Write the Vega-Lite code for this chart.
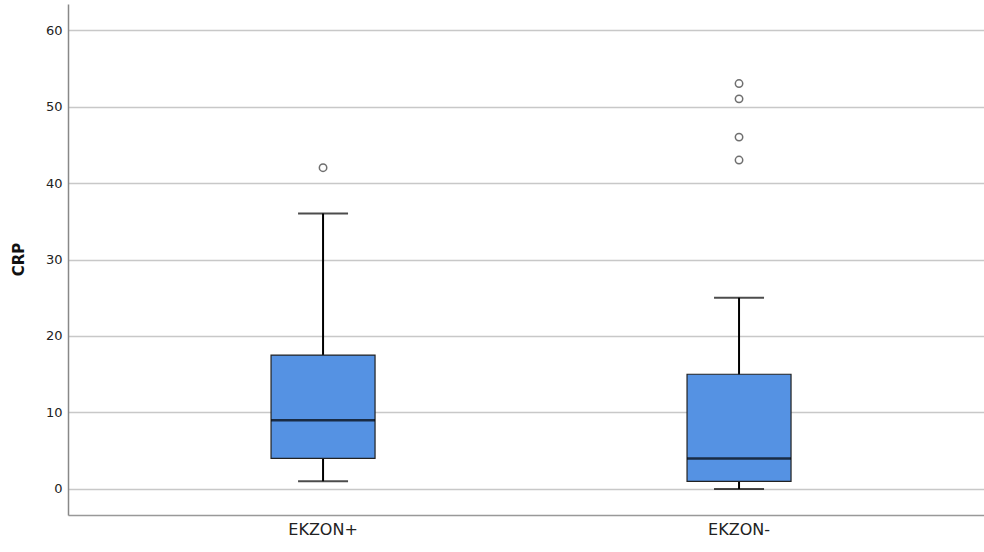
{
  "$schema": "https://vega.github.io/schema/vega-lite/v6.json",
  "autosize": "none",
  "width": 916,
  "height": 511,
  "padding": {"left": 68, "top": 4, "right": 0, "bottom": 37},
  "background": "white",
  "config": {"view": {"stroke": null}, "font": "DejaVu Sans"},
  "datasets": {
    "boxes": [
      {"group": "EKZON+", "lower": 1, "q1": 4, "median": 9, "q3": 17.5, "upper": 36},
      {"group": "EKZON-", "lower": 0, "q1": 1, "median": 4, "q3": 15, "upper": 25}
    ],
    "outliers": [
      {"group": "EKZON+", "CRP": 42},
      {"group": "EKZON-", "CRP": 53},
      {"group": "EKZON-", "CRP": 51},
      {"group": "EKZON-", "CRP": 46},
      {"group": "EKZON-", "CRP": 43}
    ]
  },
  "encoding": {
    "x": {
      "field": "group", "type": "nominal", "sort": ["EKZON+", "EKZON-"],
      "scale": {"paddingInner": 0, "paddingOuter": 0.101, "align": 0.56},
      "axis": {"title": null, "labelAngle": 0, "ticks": false, "grid": false,
        "labelFontSize": 16, "labelColor": "#222", "labelPadding": 6,
        "domainColor": "#999", "domainWidth": 1.5}
    }
  },
  "layer": [
    {
      "data": {"name": "boxes"},
      "mark": {"type": "rule", "color": "black", "strokeWidth": 2},
      "encoding": {
        "y": {"field": "lower", "type": "quantitative",
          "scale": {"domain": [-3.4, 63.4], "nice": false, "zero": false},
          "axis": {"values": [0, 10, 20, 30, 40, 50, 60], "title": "CRP",
            "titleFontSize": 15, "titleFontWeight": "bold", "titleColor": "#111",
            "titleX": -50, "titleY": 255, "titleAngle": -90, "titleAlign": "center", "titleBaseline": "middle",
            "labelFontSize": 13, "labelColor": "#222", "labelPadding": 6, "ticks": false,
            "grid": true, "gridColor": "#c8c8c8", "gridWidth": 1.5,
            "domainColor": "#888", "domainWidth": 1.5}},
        "y2": {"field": "upper"}
      }
    },
    {
      "data": {"name": "boxes"},
      "mark": {"type": "bar", "size": 104, "fill": "#5592E3", "stroke": "#222", "strokeWidth": 1.2},
      "encoding": {
        "y": {"field": "q1", "type": "quantitative"},
        "y2": {"field": "q3"}
      }
    },
    {
      "data": {"name": "boxes"},
      "mark": {"type": "tick", "size": 104, "thickness": 2.5, "color": "black"},
      "encoding": {"y": {"field": "median", "type": "quantitative"}}
    },
    {
      "data": {"name": "boxes"},
      "mark": {"type": "tick", "size": 50, "thickness": 2, "color": "black"},
      "encoding": {"y": {"field": "lower", "type": "quantitative"}}
    },
    {
      "data": {"name": "boxes"},
      "mark": {"type": "tick", "size": 50, "thickness": 2, "color": "black"},
      "encoding": {"y": {"field": "upper", "type": "quantitative"}}
    },
    {
      "data": {"name": "outliers"},
      "mark": {"type": "point", "shape": "circle", "filled": false, "size": 55, "stroke": "#333", "strokeWidth": 1.5},
      "encoding": {"y": {"field": "CRP", "type": "quantitative"}}
    }
  ]
}
